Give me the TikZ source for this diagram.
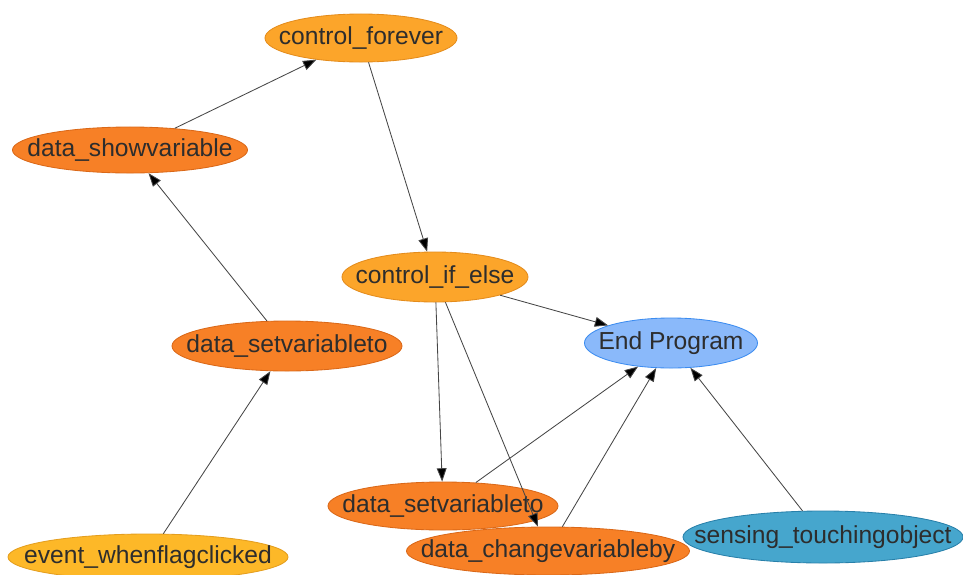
\documentclass[tikz,border=0pt]{standalone}
\usepackage{fontspec}
\setmainfont{Liberation Sans}
\definecolor{ctrlfond}{RGB}{252,165,42}
\definecolor{ctrlbord}{RGB}{228,140,28}
\definecolor{datafond}{RGB}{247,128,38}
\definecolor{databord}{RGB}{218,104,24}
\definecolor{evtfond}{RGB}{253,184,40}
\definecolor{evtbord}{RGB}{228,158,30}
\definecolor{finfond}{RGB}{138,185,250}
\definecolor{finbord}{RGB}{60,140,240}
\definecolor{sensfond}{RGB}{70,166,205}
\definecolor{sensbord}{RGB}{40,128,170}
\definecolor{texte}{RGB}{45,45,45}
\definecolor{gris}{RGB}{70,70,70}
\usetikzlibrary{arrows.meta,shapes.geometric}

\begin{document}
\begin{tikzpicture}[x=0.025cm, y=-0.025cm, font=\fontsize{17.5}{20}\selectfont,
		bloc/.style={ellipse, inner xsep=-2cm, inner ysep=0pt, text=texte, line width=0.6pt},
		ctrl/.style={bloc, fill=ctrlfond, draw=ctrlbord},
		data/.style={bloc, fill=datafond, draw=databord},
		evt/.style={bloc, fill=evtfond, draw=evtbord},
		fin/.style={bloc, fill=finfond, draw=finbord},
		sens/.style={bloc, fill=sensfond, draw=sensbord},
		fleche/.style={-{Triangle[length=9.5pt,width=7pt,fill=black]}, draw=gris, line width=0.6pt}]
	\useasboundingbox (0,0) rectangle (963,574);
	
	% Noeuds
	\node[ctrl, minimum width=4.8cm, minimum height=1.2cm] (forever) at (361,38) {control\_forever};
	\node[data, minimum width=5.875cm, minimum height=1.15cm] (show) at (130,150) {data\_showvariable};
	\node[ctrl, minimum width=4.65cm, minimum height=1.25cm] (ifelse) at (435,277) {control\_if\_else};
	\node[fin, minimum width=4.325cm, minimum height=1.25cm] (prog) at (671,343) {End Program};
	\node[data, minimum width=5.75cm, minimum height=1.25cm] (setA) at (287,346) {data\_setvariableto};
	\node[evt, minimum width=7cm, minimum height=1.15cm] (flag) at (148,557) {event\_whenflagclicked};
	\node[data, minimum width=5.75cm, minimum height=1.2cm] (setB) at (443,506) {data\_setvariableto};
	\node[data, minimum width=7.075cm, minimum height=1.2cm] (change) at (548,551) {data\_changevariableby};
	\node[sens, minimum width=7cm, minimum height=1.3cm] (touch) at (823,537) {sensing\_touchingobject};
	
	% Arcs
	\draw[fleche] (show) -- (forever);
	\draw[fleche] (forever) -- (ifelse);
	\draw[fleche] (setA) -- (show);
	\draw[fleche] (flag) -- (setA);
	\draw[fleche] (ifelse) -- (prog);
	\draw[fleche] (ifelse) -- (setB);
	\draw[fleche] (ifelse) -- (change);
	\draw[fleche] (setB) -- (prog);
	\draw[fleche] (change) -- (prog);
	\draw[fleche] (touch) -- (prog);
\end{tikzpicture}
\end{document}
